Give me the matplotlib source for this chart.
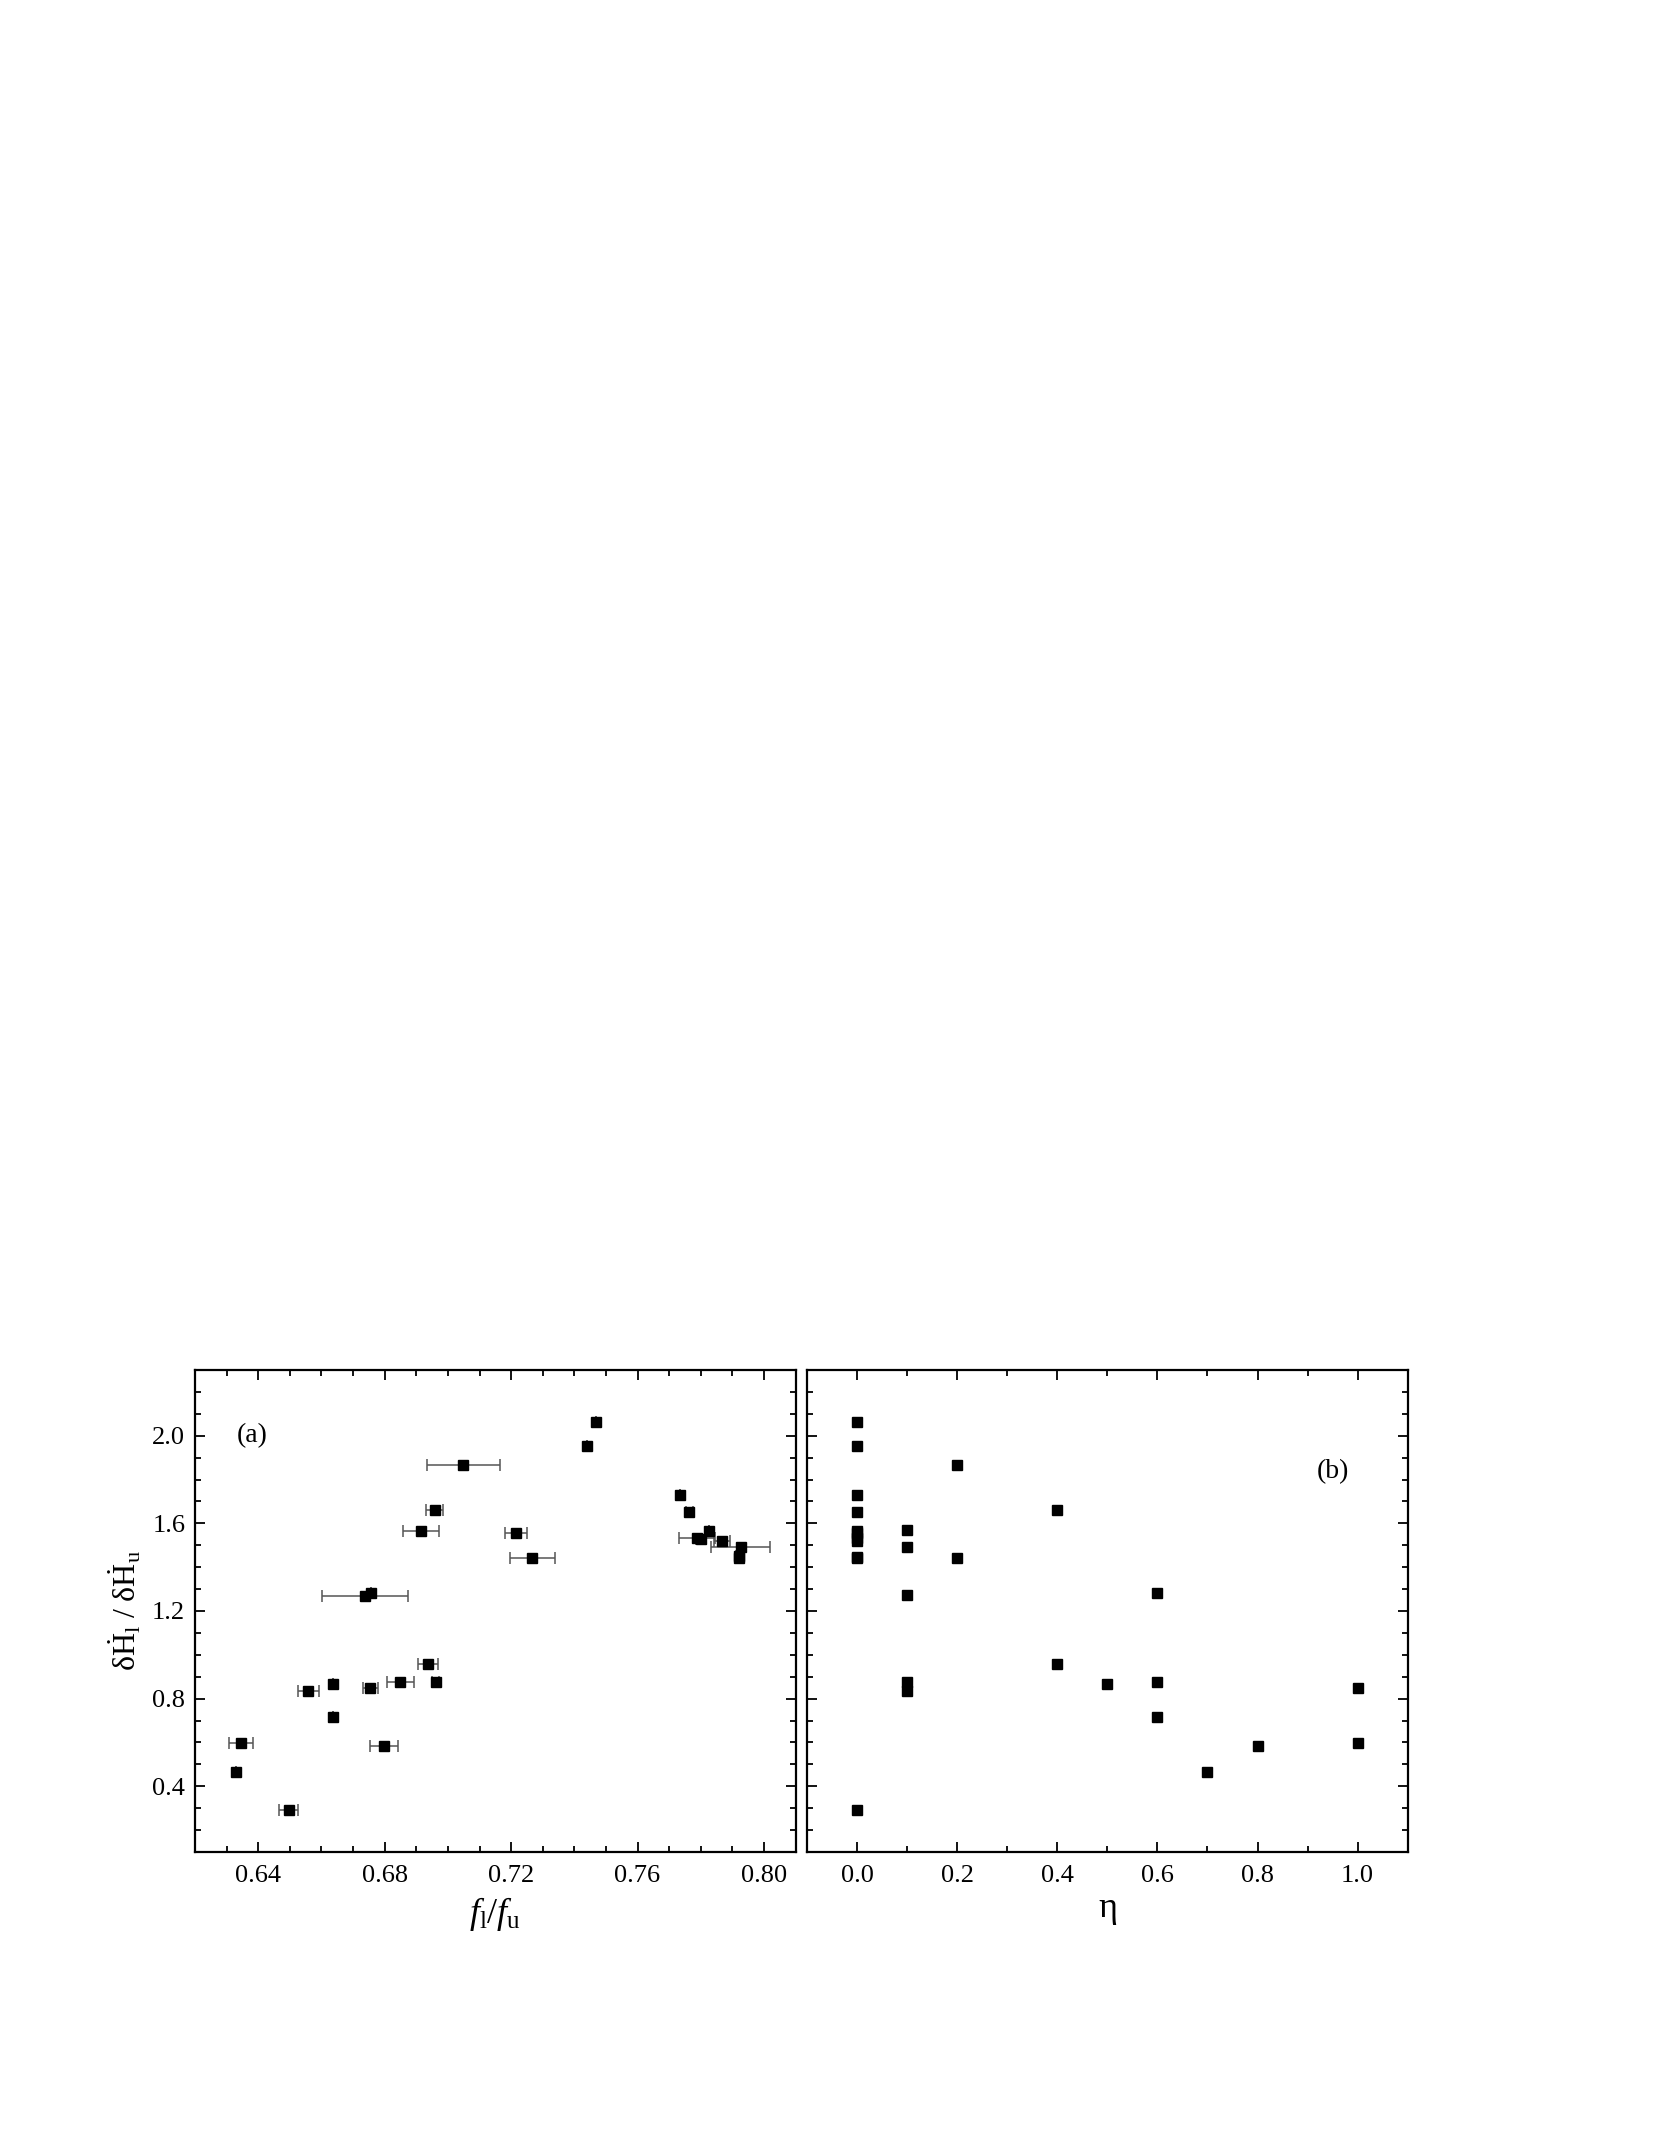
import numpy as np
import matplotlib
matplotlib.use("Agg")
import matplotlib.pyplot as plt
import matplotlib.ticker as mtk

plt.rcParams['font.family'] = ['Liberation Serif', 'DejaVu Serif']
plt.rcParams['mathtext.fontset'] = 'custom'
plt.rcParams['mathtext.rm'] = 'Liberation Serif'
plt.rcParams['mathtext.it'] = 'Liberation Serif:italic'

# panel (a): f_l/f_u vs ratio, with x error bars
fratio = [0.6330, 0.6346, 0.6496, 0.6558, 0.6636, 0.6636, 0.6738, 0.6757,
          0.6754, 0.6799, 0.6850, 0.6915, 0.6937, 0.6958, 0.6961, 0.7049,
          0.7215, 0.7267, 0.7439, 0.7470, 0.7734, 0.7764, 0.7788, 0.7800,
          0.7825, 0.7867, 0.7926, 0.7920, 0.7920]
hratio_a = [0.463, 0.597, 0.292, 0.835, 0.869, 0.717, 1.270, 1.282,
            0.850, 0.586, 0.875, 1.567, 0.958, 1.661, 0.875, 1.866,
            1.557, 1.441, 1.954, 2.062, 1.729, 1.652, 1.532, 1.528,
            1.565, 1.520, 1.494, 1.452, 1.442]
fratio_err = [0.0, 0.0039, 0.0030, 0.0033, 0.0, 0.0, 0.0136, 0.0,
              0.0024, 0.0044, 0.0042, 0.0056, 0.0032, 0.0026, 0.0012, 0.0115,
              0.0035, 0.0072, 0.0, 0.0, 0.0, 0.0012, 0.0057, 0.0015,
              0.0, 0.0025, 0.0094, 0.0010, 0.0]

# panel (b): eta vs ratio
eta = [0.0, 0.0, 0.0, 0.0, 0.0, 0.0, 0.0, 0.0, 0.0, 0.0, 0.0,
       0.1, 0.1, 0.1, 0.1, 0.1,
       0.2, 0.2, 0.4, 0.4, 0.5, 0.6, 0.6, 0.6, 0.7, 0.8, 1.0, 1.0]
hratio_b = [2.062, 1.954, 1.728, 1.652, 1.565, 1.557, 1.532, 1.520, 1.448, 1.442, 0.292,
            1.568, 1.492, 1.272, 0.875, 0.835,
            1.866, 1.441, 1.661, 0.958, 0.869, 1.284, 0.875, 0.717, 0.463, 0.586, 0.850, 0.597]

fig = plt.figure(figsize=(16.61, 21.49), dpi=100)
ax1 = fig.add_axes([0.1174, 0.1382, 0.3616, 0.2243])
ax2 = fig.add_axes([0.4859, 0.1382, 0.3616, 0.2243])

def decorateAx(ax, xmaj, xmin, xfmt):
    ax.set_ylim(0.1, 2.3)
    ax.yaxis.set_major_locator(mtk.MultipleLocator(0.4))
    ax.yaxis.set_minor_locator(mtk.MultipleLocator(0.1))
    ax.yaxis.set_major_formatter(mtk.FormatStrFormatter('%.1f'))
    ax.xaxis.set_major_locator(mtk.MultipleLocator(xmaj))
    ax.xaxis.set_minor_locator(mtk.MultipleLocator(xmin))
    ax.xaxis.set_major_formatter(mtk.FormatStrFormatter(xfmt))
    ax.tick_params(which='both', direction='in', top=True, right=True,
                   labelsize=19, width=1.3)
    ax.tick_params(which='major', length=7)
    ax.tick_params(which='minor', length=4)
    ax.tick_params(axis='x', pad=9)
    ax.tick_params(axis='y', pad=7)
    for s in ax.spines.values():
        s.set_linewidth(1.6)
    return

ax1.errorbar(fratio, hratio_a, xerr=fratio_err, fmt='s', color='black',
             markersize=7.5, ecolor='#555555', elinewidth=1.1, capsize=4,
             capthick=1.1, linestyle='none')
ax1.set_xlim(0.62, 0.81)
decorateAx(ax1, 0.04, 0.01, '%.2f')
ax1.set_xlabel(r'$f_\mathrm{l}/f_\mathrm{u}$', fontsize=26, labelpad=6)
ax1.set_ylabel(r'$\mathrm{\delta}\dot{\mathrm{H}}_\mathrm{l}\ /\ \mathrm{\delta}\dot{\mathrm{H}}_\mathrm{u}$',
               fontsize=23, labelpad=6)
ax1.text(0.638, 2.0, '(a)', fontsize=20, ha='center', va='center')

ax2.plot(eta, hratio_b, 's', color='black', markersize=7.5)
ax2.set_xlim(-0.1, 1.1)
decorateAx(ax2, 0.2, 0.1, '%.1f')
ax2.tick_params(axis='y', labelleft=False)
ax2.set_xlabel('η', fontsize=26, labelpad=4)
ax2.text(0.951, 1.834, '(b)', fontsize=20, ha='center', va='center')

fig.savefig('out.png', dpi=100)
